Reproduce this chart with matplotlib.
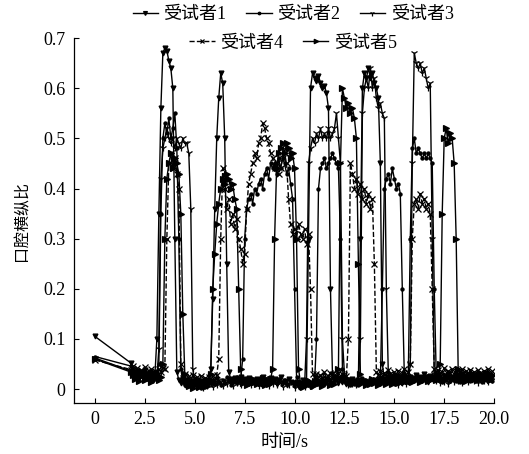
import numpy as np
import matplotlib
matplotlib.use("Agg")
import matplotlib.pyplot as plt

plt.rcParams['font.family'] = ['Liberation Serif', 'Noto Sans CJK SC', 'DejaVu Sans']

labels = ["受试者1", "受试者2", "受试者3", "受试者4", "受试者5"]
x_ticks = [0, 2.5, 5.0, 7.5, 10.0, 12.5, 15.0, 17.5, 20.0]
x_tick_labels = ["0", "2.5", "5.0", "7.5", "10.0", "12.5", "15.0", "17.5", "20.0"]
y_ticks = [0, 0.1, 0.2, 0.3, 0.4, 0.5, 0.6, 0.7]
y_tick_labels = ["0", "0.1", "0.2", "0.3", "0.4", "0.5", "0.6", "0.7"]

# first sample at t = 0, then samples every 0.1 s from 1.8 s to 19.9 s
t_first = 0.0
t_grid = np.round(np.arange(1.8, 19.95, 0.1), 1)

s1_first = 0.105
s1 = [0.052, 0.034,
      0.028, 0.035, 0.022, 0.031, 0.026, 0.038, 0.024, 0.030, 0.021, 0.033,
      0.027, 0.10, 0.35, 0.56, 0.67, 0.68, 0.675, 0.655, 0.64, 0.60,
      0.30, 0.035, 0.018, 0.012, 0.020, 0.008, 0.015, 0.010, 0.017, 0.006,
      0.013, 0.009, 0.016, 0.005, 0.012, 0.018, 0.010, 0.014, 0.040, 0.18,
      0.36, 0.50, 0.58, 0.63, 0.61, 0.50, 0.25, 0.035, 0.020, 0.015,
      0.022, 0.012, 0.018, 0.025, 0.014, 0.020, 0.011, 0.023, 0.016, 0.019,
      0.013, 0.021, 0.017, 0.010, 0.024, 0.015, 0.019, 0.012, 0.022, 0.016,
      0.020, 0.011, 0.018, 0.025, 0.013, 0.017, 0.009, 0.021, 0.015, 0.012,
      0.008, 0.014, 0.004, 0.012, 0.018, 0.010, 0.015, 0.30, 0.60, 0.63,
      0.62, 0.615, 0.625, 0.61, 0.60, 0.605, 0.59, 0.56, 0.20, 0.030,
      0.018, 0.024, 0.012, 0.020, 0.015, 0.022, 0.011, 0.019, 0.014, 0.021,
      0.016, 0.010, 0.018, 0.30, 0.60, 0.63, 0.62, 0.64, 0.62, 0.63,
      0.61, 0.60, 0.58, 0.45, 0.05, 0.020, 0.014, 0.022, 0.017, 0.025,
      0.019, 0.027, 0.015, 0.023, 0.018, 0.026, 0.020, 0.014, 0.024, 0.017,
      0.022, 0.028, 0.016, 0.025, 0.019, 0.030, 0.021, 0.015, 0.026, 0.020,
      0.024, 0.018, 0.029, 0.021, 0.016, 0.027, 0.022, 0.031, 0.019, 0.025,
      0.020, 0.028, 0.017, 0.024, 0.030, 0.019, 0.026, 0.022, 0.029, 0.018,
      0.025, 0.021, 0.030, 0.018, 0.027, 0.023, 0.032, 0.020, 0.026, 0.024]

s2_first = 0.065
s2 = [0.046, 0.038,
      0.032, 0.026, 0.039, 0.029, 0.035, 0.024, 0.033, 0.027, 0.037, 0.030,
      0.025, 0.034, 0.050, 0.35, 0.50, 0.53, 0.51, 0.54, 0.50, 0.52,
      0.55, 0.48, 0.30, 0.040, 0.016, 0.009, 0.021, 0.012, 0.004, 0.015,
      0.008, 0.018, 0.011, 0.003, 0.014, 0.020, 0.007, 0.016, 0.012, 0.019,
      0.010, 0.022, 0.015, 0.008, 0.019, 0.012, 0.024, 0.017, 0.009, 0.021,
      0.014, 0.025, 0.016, 0.020, 0.060, 0.30, 0.36, 0.38, 0.39, 0.37,
      0.40, 0.39, 0.41, 0.42, 0.40, 0.43, 0.44, 0.42, 0.45, 0.44,
      0.45, 0.43, 0.46, 0.44, 0.46, 0.45, 0.43, 0.44, 0.41, 0.38,
      0.20, 0.025, 0.012, 0.006, 0.015, 0.009, 0.018, 0.011, 0.004, 0.014,
      0.010, 0.10, 0.40, 0.44, 0.45, 0.46, 0.44, 0.45, 0.46, 0.47,
      0.46, 0.45, 0.44, 0.30, 0.040, 0.018, 0.012, 0.020, 0.009, 0.016,
      0.011, 0.019, 0.008, 0.015, 0.022, 0.013, 0.017, 0.010, 0.021, 0.014,
      0.018, 0.012, 0.023, 0.016, 0.20, 0.40, 0.42, 0.43, 0.41, 0.44,
      0.42, 0.40, 0.41, 0.39, 0.20, 0.030, 0.018, 0.025, 0.30, 0.48,
      0.50, 0.47, 0.48, 0.47, 0.46, 0.47, 0.46, 0.47, 0.46, 0.45,
      0.20, 0.030, 0.019, 0.026, 0.015, 0.023, 0.018, 0.028, 0.016, 0.024,
      0.021, 0.017, 0.027, 0.014, 0.025, 0.019, 0.023, 0.030, 0.016, 0.022,
      0.018, 0.026, 0.020, 0.029, 0.015, 0.024, 0.019, 0.027, 0.021, 0.017]

s3_first = 0.062
s3 = [0.036, 0.043,
      0.024, 0.031, 0.020, 0.036, 0.027, 0.022, 0.034, 0.025, 0.030, 0.019,
      0.032, 0.023, 0.08, 0.42, 0.48, 0.50, 0.52, 0.50, 0.49, 0.50,
      0.48, 0.50, 0.49, 0.48, 0.50, 0.49, 0.49, 0.47, 0.36, 0.040,
      0.012, 0.005, 0.016, 0.009, 0.002, 0.013, 0.007, 0.017, 0.010, 0.004,
      0.015, 0.008, 0.019, 0.011, 0.006, 0.016, 0.010, 0.021, 0.013, 0.007,
      0.018, 0.012, 0.023, 0.009, 0.016, 0.011, 0.020, 0.014, 0.008, 0.017,
      0.012, 0.019, 0.007, 0.015, 0.010, 0.022, 0.013, 0.006, 0.018, 0.011,
      0.016, 0.009, 0.020, 0.012, 0.005, 0.014, 0.019, 0.008, 0.015, 0.011,
      0.003, 0.012, 0.007, 0.015, 0.010, 0.005, 0.10, 0.45, 0.48, 0.50,
      0.49, 0.51, 0.50, 0.52, 0.50, 0.51, 0.50, 0.52, 0.50, 0.51,
      0.52, 0.55, 0.50, 0.45, 0.10, 0.030, 0.014, 0.008, 0.018, 0.011,
      0.016, 0.009, 0.013, 0.10, 0.55, 0.60, 0.62, 0.60, 0.64, 0.60,
      0.62, 0.58, 0.56, 0.57, 0.55, 0.54, 0.20, 0.030, 0.015, 0.022,
      0.012, 0.020, 0.009, 0.017, 0.013, 0.021, 0.010, 0.016, 0.05, 0.45,
      0.67, 0.65, 0.64, 0.65, 0.63, 0.64, 0.62, 0.60, 0.61, 0.30,
      0.030, 0.016, 0.024, 0.012, 0.020, 0.015, 0.026, 0.011, 0.019, 0.023,
      0.014, 0.021, 0.017, 0.025, 0.012, 0.019, 0.023, 0.015, 0.020, 0.026,
      0.017, 0.022, 0.013, 0.024, 0.019, 0.016, 0.027, 0.014, 0.021, 0.018]

s4_first = 0.058
s4 = [0.039, 0.047,
      0.035, 0.042, 0.030, 0.038, 0.033, 0.044, 0.029, 0.036, 0.041, 0.031,
      0.037, 0.028, 0.040, 0.034, 0.043, 0.040, 0.30, 0.45, 0.47, 0.44,
      0.46, 0.43, 0.40, 0.050, 0.022, 0.030, 0.018, 0.026, 0.014, 0.028,
      0.020, 0.025, 0.013, 0.027, 0.017, 0.023, 0.011, 0.024, 0.019, 0.026,
      0.015, 0.028, 0.060, 0.30, 0.44, 0.40, 0.36, 0.38, 0.33, 0.35,
      0.32, 0.34, 0.30, 0.28, 0.25, 0.27, 0.36, 0.41, 0.43, 0.45,
      0.47, 0.46, 0.49, 0.50, 0.53, 0.52, 0.50, 0.49, 0.47, 0.46,
      0.44, 0.45, 0.43, 0.44, 0.46, 0.47, 0.45, 0.38, 0.33, 0.31,
      0.32, 0.30, 0.33, 0.31, 0.30, 0.32, 0.29, 0.31, 0.20, 0.030,
      0.024, 0.031, 0.019, 0.028, 0.022, 0.034, 0.020, 0.027, 0.032, 0.023,
      0.029, 0.021, 0.033, 0.025, 0.030, 0.018, 0.026, 0.10, 0.45, 0.43,
      0.40, 0.42, 0.39, 0.41, 0.38, 0.40, 0.37, 0.39, 0.36, 0.38,
      0.25, 0.035, 0.028, 0.036, 0.024, 0.033, 0.027, 0.038, 0.030, 0.026,
      0.034, 0.029, 0.037, 0.025, 0.032, 0.040, 0.027, 0.035, 0.050, 0.30,
      0.37, 0.38, 0.36, 0.39, 0.37, 0.38, 0.36, 0.37, 0.35, 0.20,
      0.040, 0.031, 0.038, 0.027, 0.035, 0.042, 0.029, 0.036, 0.033, 0.040,
      0.030, 0.037, 0.026, 0.034, 0.041, 0.028, 0.036, 0.032, 0.039, 0.027,
      0.035, 0.030, 0.038, 0.033, 0.026, 0.037, 0.031, 0.040, 0.029, 0.036]

s5_first = 0.060
s5 = [0.034, 0.029,
      0.021, 0.028, 0.017, 0.026, 0.032, 0.019, 0.027, 0.023, 0.015, 0.025,
      0.020, 0.029, 0.018, 0.024, 0.050, 0.30, 0.42, 0.45, 0.47, 0.44,
      0.46, 0.45, 0.43, 0.35, 0.15, 0.030, 0.014, 0.006, 0.012, 0.003,
      0.010, 0.015, 0.004, 0.011, 0.008, 0.013, 0.006, 0.016, 0.030, 0.20,
      0.27, 0.33, 0.37, 0.40, 0.42, 0.41, 0.43, 0.42, 0.40, 0.41,
      0.38, 0.36, 0.20, 0.040, 0.013, 0.020, 0.009, 0.017, 0.012, 0.021,
      0.015, 0.010, 0.019, 0.013, 0.022, 0.008, 0.016, 0.011, 0.020, 0.040,
      0.30, 0.44, 0.47, 0.48, 0.49, 0.47, 0.49, 0.48, 0.46, 0.47,
      0.44, 0.30, 0.040, 0.012, 0.005, 0.014, 0.009, 0.017, 0.011, 0.006,
      0.016, 0.010, 0.019, 0.013, 0.007, 0.018, 0.012, 0.021, 0.009, 0.015,
      0.011, 0.020, 0.040, 0.45, 0.60, 0.58, 0.56, 0.57, 0.55, 0.56,
      0.54, 0.50, 0.25, 0.030, 0.012, 0.019, 0.008, 0.016, 0.011, 0.020,
      0.013, 0.018, 0.009, 0.017, 0.012, 0.021, 0.010, 0.015, 0.019, 0.011,
      0.016, 0.022, 0.013, 0.019, 0.024, 0.014, 0.020, 0.017, 0.023, 0.015,
      0.021, 0.018, 0.026, 0.014, 0.022, 0.019, 0.027, 0.016, 0.024, 0.020,
      0.025, 0.018, 0.023, 0.05, 0.35, 0.50, 0.52, 0.49, 0.51, 0.50,
      0.45, 0.30, 0.040, 0.024, 0.019, 0.028, 0.016, 0.025, 0.021, 0.030,
      0.022, 0.027, 0.018, 0.026, 0.031, 0.020, 0.028, 0.023, 0.019, 0.029]

series = [(s1_first, s1), (s2_first, s2), (s3_first, s3), (s4_first, s4), (s5_first, s5)]
styles = [
    dict(marker='v', ms=3.5, ls='-'),
    dict(marker='.', ms=4.5, ls='-'),
    dict(marker='1', ms=5.0, ls='-'),
    dict(marker='x', ms=4.0, ls='--'),
    dict(marker='>', ms=4.0, ls='-'),
]

fig = plt.figure(figsize=(5.29, 4.54), dpi=100)
ax = fig.add_axes([0.140, 0.112, 0.794, 0.804])

handles = []
for (first, vals), st, lab in zip(series, styles, labels):
    t = np.concatenate([[t_first], t_grid])
    y = np.concatenate([[first], vals])
    h, = ax.plot(t, y, color='black', lw=1.0, label=lab,
                 marker=st['marker'], ms=st['ms'], ls=st['ls'],
                 mec='black', mfc='black', mew=0.9)
    handles.append(h)

ax.set_xlim(-1.05, 20.0)
ax.set_ylim(-0.028, 0.70)
ax.set_xticks(x_ticks)
ax.set_xticklabels(x_tick_labels)
ax.set_yticks(y_ticks)
ax.set_yticklabels(y_tick_labels)
ax.tick_params(direction='in', length=3.5, width=0.8, labelsize=13, pad=6)
for side in ['top', 'right']:
    ax.spines[side].set_visible(False)
for side in ['left', 'bottom']:
    ax.spines[side].set_linewidth(0.9)

ax.set_xlabel("时间/s", fontsize=13, labelpad=4)
ax.set_ylabel("口腔横纵比", fontsize=11.5, labelpad=9)

leg_kw = dict(loc='center', frameon=False, fontsize=13, handlelength=1.4,
              handletextpad=0.3, columnspacing=1.1, borderpad=0.1, markerscale=0.8)
leg1 = fig.legend(handles[:3], labels[:3], ncol=3, bbox_to_anchor=(0.554, 0.967), **leg_kw)
leg2 = fig.legend(handles[3:], labels[3:], ncol=2, bbox_to_anchor=(0.554, 0.905), **leg_kw)

fig.savefig("out.png", dpi=100)
